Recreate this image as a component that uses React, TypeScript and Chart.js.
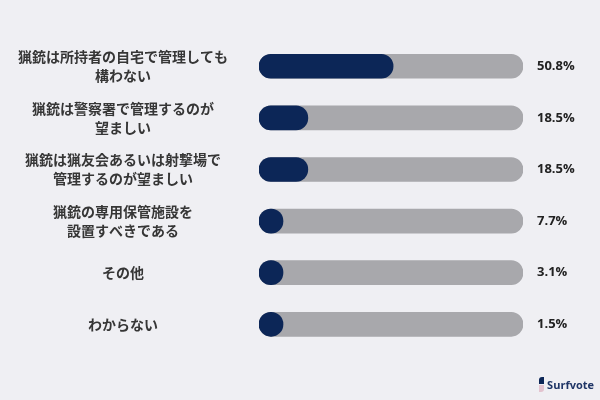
import { useEffect, useRef } from "react";
import { Chart, registerables } from "chart.js";

Chart.register(...registerables);

// answer options (split into the two lines shown)
const categories: string[][] = [
	["猟銃は所持者の自宅で管理しても", "構わない"],
	["猟銃は警察署で管理するのが", "望ましい"],
	["猟銃は猟友会あるいは射撃場で", "管理するのが望ましい"],
	["猟銃の専用保管施設を", "設置すべきである"],
	["その他"],
	["わからない"],
];

const shares = [50.8, 18.5, 18.5, 7.7, 3.1, 1.5];
const trackValues = [100, 100, 100, 100, 100, 100];
const valueLabels = shares.map((v) => v.toFixed(1) + "%");

const NAVY = "#0c2657";
const TRACK = "#a8a8ac";
const BG = "#efeff3";

export default function App() {
	const canvasRef = useRef<HTMLCanvasElement | null>(null);

	useEffect(() => {
		if (!canvasRef.current) return;
		const chart = new Chart(canvasRef.current, {
			type: "bar",
			data: {
				labels: categories,
				datasets: [
					{
						label: "share",
						data: shares,
						backgroundColor: NAVY,
						borderRadius: 12,
						borderSkipped: false,
						barThickness: 24,
						minBarLength: 24,
						grouped: false,
					},
					{
						label: "track",
						data: trackValues,
						backgroundColor: TRACK,
						borderRadius: 12,
						borderSkipped: false,
						barThickness: 24,
						grouped: false,
					},
				],
			},
			options: {
				indexAxis: "y",
				responsive: true,
				maintainAspectRatio: false,
				animation: false,
				layout: { padding: { top: 36, bottom: 38, left: 17, right: 0 } },
				plugins: {
					legend: { display: false },
					tooltip: { enabled: false },
				},
				scales: {
					x: { display: false, min: 0, max: 100 },
					y: {
						position: "left",
						grid: { display: false, drawTicks: false },
						border: { display: false },
						afterFit: (scale) => {
							scale.width = 242;
						},
						ticks: {
							crossAlign: "center",
							padding: 31,
							color: "#363636",
							font: { size: 14, weight: "bold", family: "'Noto Sans CJK JP', sans-serif", lineHeight: 1.35 },
						},
					},
					y2: {
						type: "category",
						position: "right",
						labels: valueLabels,
						offset: true,
						grid: { display: false, drawTicks: false },
						border: { display: false },
						afterFit: (scale) => {
							scale.width = 77;
						},
						ticks: {
							crossAlign: "near",
							padding: 14,
							color: "#222222",
							font: { size: 13, weight: "bold", family: "'Open Sans', sans-serif" },
						},
					},
				},
			},
		});
		return () => chart.destroy();
	}, []);

	return (
		<div style={{ position: "fixed", left: 0, top: 0, width: 600, height: 400, background: BG }}>
			<canvas ref={canvasRef} />
			<div
				style={{
					position: "absolute",
					right: 6,
					bottom: 8,
					display: "flex",
					alignItems: "center",
					gap: 3,
					fontFamily: "'Open Sans', sans-serif",
					fontWeight: 700,
					fontSize: 11,
					color: "#1f3566",
				}}
			>
				<span style={{ display: "flex", flexDirection: "column", gap: 1 }}>
					<span style={{ width: 5, height: 7, background: NAVY, borderRadius: "3px 0 0 0" }} />
					<span style={{ width: 5, height: 7, background: "#e3c3cf", borderRadius: "0 0 3px 0" }} />
				</span>
				Surfvote
			</div>
		</div>
	);
}
